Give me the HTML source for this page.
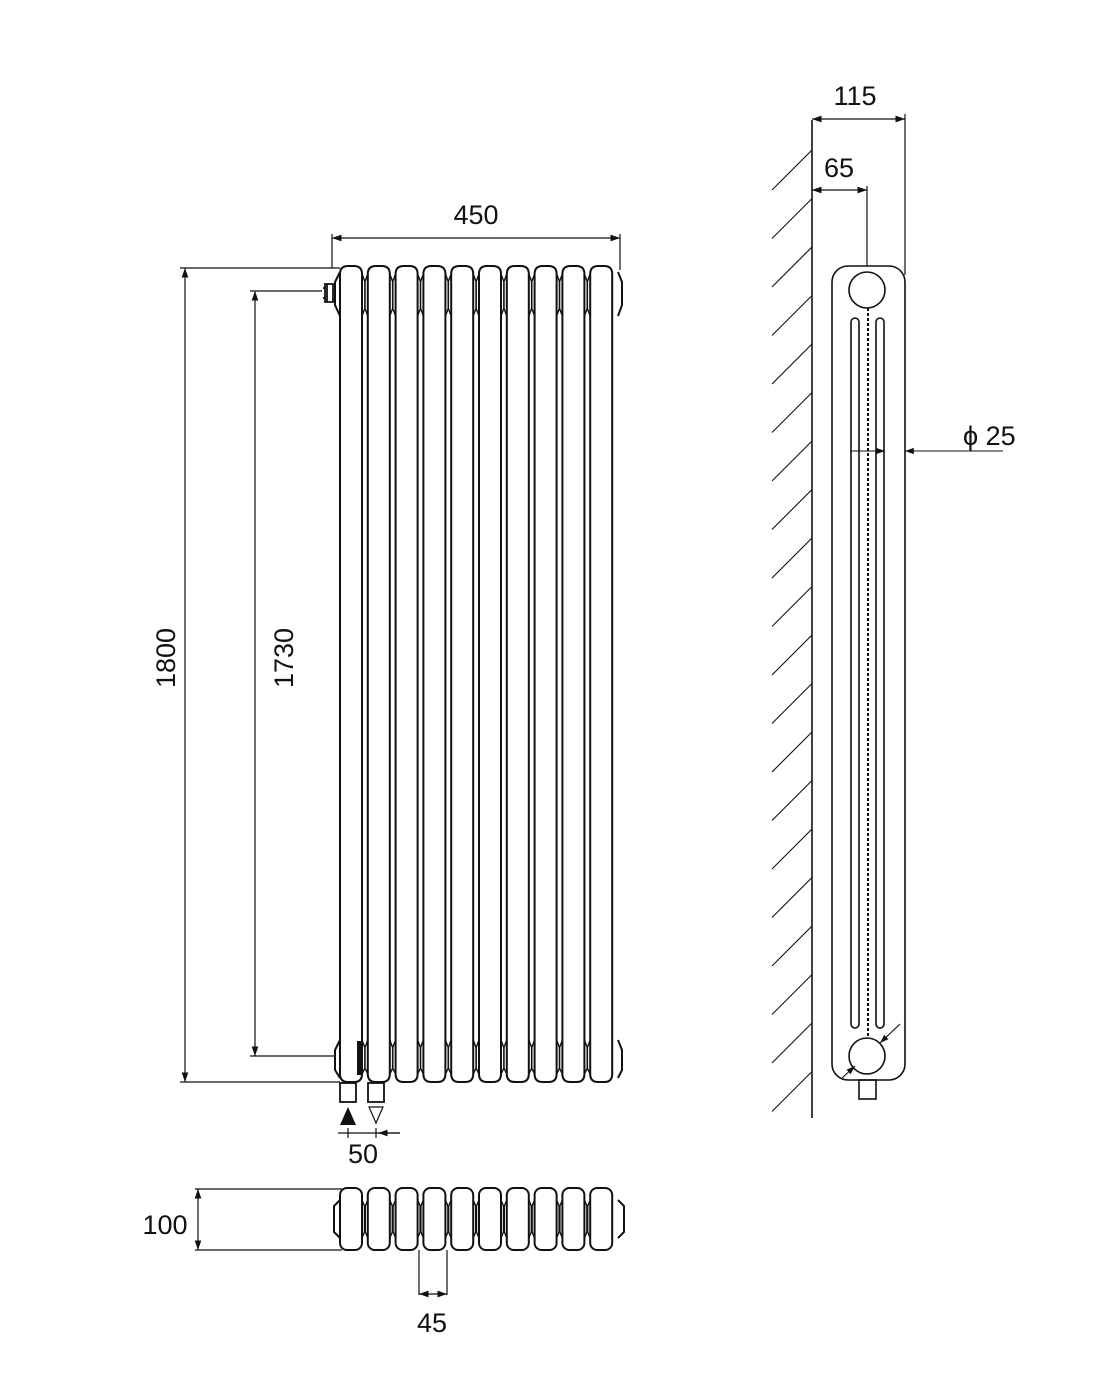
<!DOCTYPE html>
<html><head><meta charset="utf-8"><style>
html,body{margin:0;padding:0;background:#fff;}
svg{display:block;}
text{font-family:"Liberation Sans",Arial,sans-serif;fill:#111;}
</style></head><body>
<svg id="s" width="1100" height="1400" viewBox="0 0 1100 1400" xmlns="http://www.w3.org/2000/svg">
<defs>
<marker id="a" viewBox="0 0 10 10" refX="10" refY="5" markerWidth="8" markerHeight="8" orient="auto-start-reverse"><path d="M0,1.5 L10,5 L0,8.5 Z" fill="#111"/></marker>
</defs>
<g id="front" fill="none" stroke="#111" stroke-width="2"></g>
<g fill="none" stroke="#111" stroke-width="1.2">
<line x1="332" y1="238" x2="620" y2="238" marker-start="url(#a)" marker-end="url(#a)"/>
<line x1="332" y1="234" x2="332" y2="268"/>
<line x1="620" y1="234" x2="620" y2="270"/>
<line x1="180" y1="268" x2="340" y2="268"/>
<line x1="180" y1="1082" x2="340" y2="1082"/>
<line x1="185" y1="268" x2="185" y2="1082" marker-start="url(#a)" marker-end="url(#a)"/>
<line x1="250" y1="291" x2="322" y2="291"/>
<line x1="250" y1="1056" x2="334" y2="1056"/>
<line x1="255" y1="291" x2="255" y2="1056" marker-start="url(#a)" marker-end="url(#a)"/>
<line x1="338" y1="1133" x2="400" y2="1133"/>
<line x1="348" y1="1128" x2="348" y2="1138"/>
<line x1="376" y1="1128" x2="376" y2="1138"/>
<line x1="400" y1="1133" x2="378" y2="1133" marker-end="url(#a)"/>
<line x1="195" y1="1189" x2="342" y2="1189"/>
<line x1="195" y1="1250" x2="342" y2="1250"/>
<line x1="198" y1="1189" x2="198" y2="1250" marker-start="url(#a)" marker-end="url(#a)"/>
<line x1="419" y1="1250" x2="419" y2="1295"/>
<line x1="447" y1="1250" x2="447" y2="1295"/>
<line x1="419" y1="1294" x2="447" y2="1294" marker-start="url(#a)" marker-end="url(#a)"/>
</g>
<g fill="none" stroke="#111" stroke-width="1.8">
<path d="M325,284 h8 v18 h-8 z M327,284 v18 M323,288 h2 M323,298 h2"/>
<rect x="340" y="1083" width="16" height="19"/>
<rect x="368" y="1083" width="16" height="19"/>
<path d="M369,1107 L383,1107 L376,1123 Z" stroke-width="1.2"/>
</g>
<path d="M340,1125 L356,1125 L348,1107 Z" fill="#111"/>
<g fill="none" stroke="#111" stroke-width="1.6" id="side">
<line x1="812" y1="120" x2="812" y2="1118"/>
<rect x="832" y="266" width="73" height="814" rx="16"/>
<circle cx="867" cy="290" r="18"/>
<circle cx="867" cy="1056" r="18"/>
<rect x="851" y="318" width="8" height="710" rx="4"/>
<rect x="876" y="318" width="8" height="710" rx="4"/>
<line x1="868" y1="308" x2="868" y2="1037" stroke-dasharray="3,2" stroke-width="2"/>
<rect x="859" y="1080" width="17" height="19"/>
<line x1="812" y1="119" x2="905" y2="119" stroke-width="1.2" marker-start="url(#a)" marker-end="url(#a)"/>
<line x1="905" y1="114" x2="905" y2="275" stroke-width="1.2"/>
<line x1="812" y1="190" x2="867" y2="190" stroke-width="1.2" marker-start="url(#a)" marker-end="url(#a)"/>
<line x1="867" y1="186" x2="867" y2="266" stroke-width="1.2"/>
<line x1="850" y1="451" x2="885" y2="451" stroke-width="1.1" marker-end="url(#a)"/>
<line x1="1003" y1="451" x2="905" y2="451" stroke-width="1.1" marker-end="url(#a)"/>
<line x1="900" y1="1024" x2="880" y2="1043" stroke-width="1.1" marker-end="url(#a)"/>
<line x1="842" y1="1078" x2="855" y2="1066" stroke-width="1.1" marker-end="url(#a)"/>
</g>
<g font-size="27">
<text x="476" y="224" text-anchor="middle">450</text>
<text x="855" y="105" text-anchor="middle">115</text>
<text x="839" y="177" text-anchor="middle">65</text>
<text x="963" y="445">ϕ 25</text>
<text x="363" y="1163" text-anchor="middle">50</text>
<text x="165" y="1234" text-anchor="middle">100</text>
<text x="432" y="1332" text-anchor="middle">45</text>
<text transform="translate(175,658) rotate(-90)" text-anchor="middle">1800</text>
<text transform="translate(293,658) rotate(-90)" text-anchor="middle">1730</text>
</g>
<script>
(function(){
var ns="http://www.w3.org/2000/svg";
function el(p,t,a){var e=document.createElementNS(ns,t);for(var k in a)e.setAttribute(k,a[k]);p.appendChild(e);return e;}
var f=document.getElementById('front');
var P=27.8, x0=340, top=266, bot=1082;
for(var i=0;i<10;i++){
 var x=x0+i*P, w=22;
 el(f,'path',{d:'M'+x+','+(bot-6)+' V'+(top+8)+' Q'+x+','+top+' '+(x+8)+','+top+' H'+(x+w-8)+' Q'+(x+w)+','+top+' '+(x+w)+','+(top+8)+' V'+(bot-8)+' Q'+(x+w)+','+bot+' '+(x+w-8)+','+bot+' H'+(x+8)+' Q'+x+','+bot+' '+x+','+(bot-8)});
 if(i<9){
  var a=x+w, b=x+P;
  el(f,'path',{d:'M'+a+','+(top+8)+' L'+(a+3)+','+(top+16)+' V'+(top+42)+' L'+a+','+(top+50)+' M'+b+','+(top+8)+' L'+(b-3)+','+(top+16)+' V'+(top+42)+' L'+b+','+(top+50),'stroke-width':1.4});
  el(f,'path',{d:'M'+a+','+(bot-8)+' L'+(a+3)+','+(bot-14)+' V'+(bot-34)+' L'+a+','+(bot-42)+' M'+b+','+(bot-8)+' L'+(b-3)+','+(bot-14)+' V'+(bot-34)+' L'+b+','+(bot-42),'stroke-width':1.4});
 }
}
el(f,'path',{d:'M340,272 L335,282 V305 L340,316'});
el(f,'path',{d:'M340,1040 L335,1050 V1070 L340,1078'});
el(f,'path',{d:'M618,272 L622,282 V305 L618,316'});
el(f,'path',{d:'M618,1040 L622,1050 V1070 L618,1078'});
el(f,'rect',{x:358,y:1042,width:4,height:32,fill:'#111'});
for(var i=0;i<10;i++){
 var x=x0+i*P;
 el(f,'rect',{x:x,y:1188,width:22,height:62,rx:7});
 if(i<9){var a=x+22,b=x+P;
  el(f,'path',{d:'M'+a+',1200 L'+(a+2.5)+',1206 V1232 L'+a+',1238 M'+b+',1200 L'+(b-2.5)+',1206 V1232 L'+b+',1238','stroke-width':1.4});}
}
el(f,'path',{d:'M340,1200 L334,1206 V1232 L340,1238'});
el(f,'path',{d:'M618,1200 L624,1206 V1232 L618,1238'});
var s=document.getElementById('side');
for(var y=150;y<=1100;y+=48.5){
 el(s,'line',{x1:812,y1:y,x2:772,y2:y+40,'stroke-width':1.1});
}
})();
</script>
</svg>
</body></html>
